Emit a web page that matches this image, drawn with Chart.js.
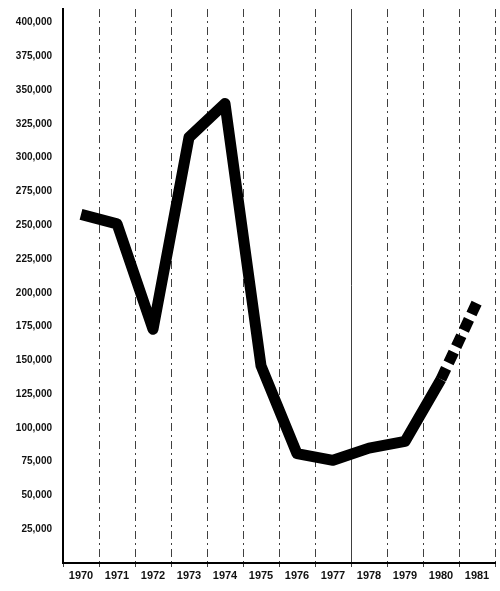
<!DOCTYPE html>
<html>
<head>
<meta charset="utf-8">
<script src="https://cdn.jsdelivr.net/npm/chart.js@4/dist/chart.umd.min.js"></script>
<style>
  body { margin: 0; background: #fff; }
  #wrap { width: 500px; height: 591px; }
</style>
</head>
<body>
<div id="wrap"><canvas id="chart"></canvas></div>
<script>
// years along the bottom
const years = ['1970', '1971', '1972', '1973', '1974', '1975', '1976', '1977', '1978', '1979', '1980', '1981'];
// values (last segment is a projection, drawn dashed)
const units = [258000, 251000, 173000, 315000, 340000, 146000, 81000, 76000, 85000, 90000, 136000, 193000];
// y tick labels shown on the axis
const yTicks = [25000, 50000, 75000, 100000, 125000, 150000, 175000, 200000, 225000, 250000, 275000, 300000, 325000, 350000, 375000, 400000];

const yFont = { family: 'Liberation Sans, Arial, sans-serif', size: 10, weight: 'bold' };
const xFont = { family: 'Liberation Sans, Arial, sans-serif', size: 11, weight: 'bold' };

const ctx = document.getElementById('chart').getContext('2d');
new Chart(ctx, {
    type: 'line',
    data: {
        labels: years,
        datasets: [{
            data: units,
            borderColor: '#000',
            borderWidth: 11,
            borderCapStyle: 'butt',
            borderJoinStyle: 'round',
            tension: 0,
            pointRadius: 0,
            fill: false,
            segment: {
                // projected part
                borderDash: c => c.p0DataIndex >= 10 ? [12, 6] : undefined
            }
        }]
    },
    options: {
        responsive: true,
        maintainAspectRatio: false,
        animation: false,
        layout: { padding: { left: 0, right: 5, top: -8, bottom: 0 } },
        plugins: {
            legend: { display: false },
            tooltip: { enabled: false }
        },
        scales: {
            x: {
                offset: true,
                grid: {
                    offset: true,
                    color: 'rgba(0,0,0,0.75)',
                    lineWidth: 1,
                    tickLength: 4
                },
                border: {
                    display: true,
                    width: 2,
                    color: '#000',
                    // the 1977/1978 line is solid in the original
                    dash: c => c.index === 8 ? [] : [8, 4, 2, 4]
                },
                ticks: {
                    color: '#111',
                    font: xFont,
                    padding: 2,
                    maxRotation: 0,
                    autoSkip: false
                },
                afterFit: s => { s.height = 28; }
            },
            y: {
                min: 0,
                max: 410000,
                grid: { display: false },
                border: { display: true, width: 2, color: '#000' },
                afterBuildTicks: s => { s.ticks = yTicks.map(v => ({ value: v })); },
                ticks: {
                    color: '#111',
                    font: yFont,
                    padding: 3,
                    autoSkip: false,
                    callback: v => Number(v).toLocaleString('en-US')
                },
                afterFit: s => { s.width = 63; }
            }
        }
    }
});
</script>
</body>
</html>
